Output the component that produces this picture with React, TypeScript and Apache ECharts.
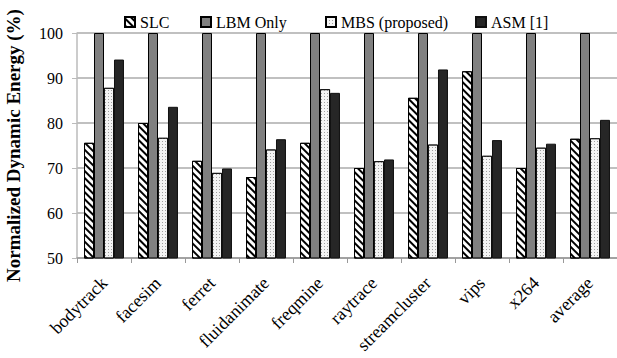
import React, { useEffect, useRef } from "react";
import * as echarts from "echarts";

const categories = ["bodytrack", "facesim", "ferret", "fluidanimate", "freqmine", "raytrace", "streamcluster", "vips", "x264", "average"];
const slc = [75.6, 80.0, 71.6, 68.0, 75.6, 70.0, 85.6, 91.5, 70.0, 76.5];
const lbmOnly = [100, 100, 100, 100, 100, 100, 100, 100, 100, 100];
const mbs = [87.8, 76.7, 68.9, 74.1, 87.5, 71.5, 75.2, 72.7, 74.5, 76.6];
const asm = [94.1, 83.6, 69.9, 76.4, 86.7, 71.9, 91.9, 76.2, 75.4, 80.7];
const seriesNames = ["SLC", "LBM Only", "MBS (proposed)", "ASM [1]"];
const yTicks = { min: 50, max: 100, interval: 10 };

const FONT = "Liberation Serif";
const legendLefts = [124, 200, 325, 475];

export default function App() {
  const ref = useRef<HTMLDivElement>(null);
  useEffect(() => {
    if (!ref.current) return;
    document.body.style.margin = "0";
    const chart = echarts.init(ref.current, null, { renderer: "svg" });
    const barBase = { type: "bar" as const, barGap: "0%", barCategoryGap: "26%" };
    chart.setOption({
      animation: false,
      textStyle: { fontFamily: FONT },
      legend: seriesNames.map((n, i) => ({
        top: 14,
        left: legendLefts[i],
        itemWidth: 10,
        itemHeight: 10,
        icon: "rect",
        padding: 0,
        textStyle: { fontFamily: FONT, fontSize: 16, color: "#000" },
        data: [n],
      })),
      grid: { left: 77, right: 0, top: 33, bottom: 100, containLabel: false, outerBoundsMode: "none" },
      xAxis: {
        type: "category",
        data: categories,
        axisLine: { lineStyle: { color: "#999", width: 1.5 } },
        axisTick: { show: true, length: 5, lineStyle: { color: "#999" } },
        axisLabel: { rotate: 45, fontFamily: FONT, fontSize: 18, color: "#000", margin: 22, interval: 0 },
      },
      yAxis: {
        type: "value",
        min: yTicks.min,
        max: yTicks.max,
        interval: yTicks.interval,
        name: "Normalized Dynamic Energy (%)",
        nameLocation: "middle",
        nameGap: 54,
        nameTextStyle: { fontFamily: FONT, fontSize: 19, fontWeight: "bold", color: "#000" },
        axisLine: { show: true, lineStyle: { color: "#bbb", width: 1.5 } },
        axisTick: { show: true, length: 5, lineStyle: { color: "#bbb" } },
        axisLabel: { fontFamily: FONT, fontSize: 16, color: "#000", margin: 14 },
        splitLine: { lineStyle: { color: "#c0c0c0", width: 2 } },
      },
      series: [
        {
          ...barBase,
          name: seriesNames[0],
          data: slc,
          itemStyle: {
            color: "#ffffff",
            borderColor: "#000",
            borderWidth: 1,
            decal: {
              symbol: "rect",
              symbolSize: 1,
              color: "#000",
              dashArrayX: [1, 0],
              dashArrayY: [2, 2.6],
              rotation: Math.PI / 4,
            },
          },
        },
        {
          ...barBase,
          name: seriesNames[1],
          data: lbmOnly,
          itemStyle: { color: "#808080", borderColor: "#000", borderWidth: 1 },
        },
        {
          ...barBase,
          name: seriesNames[2],
          data: mbs,
          itemStyle: {
            color: "#f4f4f4",
            borderColor: "#000",
            borderWidth: 0.8,
            decal: {
              symbol: "rect",
              symbolSize: 1,
              color: "#a0a0a0",
              dashArrayX: [1, 2],
              dashArrayY: [1, 2],
              rotation: 0,
            },
          },
        },
        {
          ...barBase,
          name: seriesNames[3],
          data: asm,
          itemStyle: { color: "#262626", borderColor: "#111", borderWidth: 1 },
        },
      ],
    });
    return () => chart.dispose();
  }, []);
  return <div ref={ref} style={{ width: 617, height: 358 }} />;
}
